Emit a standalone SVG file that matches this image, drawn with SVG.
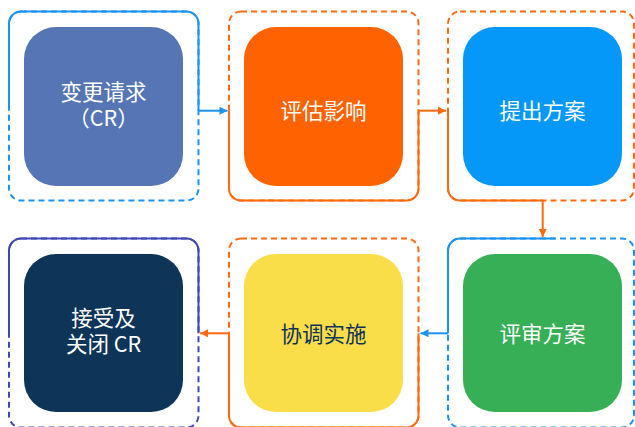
<svg xmlns="http://www.w3.org/2000/svg" width="635" height="427" viewBox="0 0 635 427">
<style>
.frame{fill:none;stroke-width:2;stroke-dasharray:6 4}
.solid{fill:none;stroke-width:2}
.blue{stroke:#1b93f3}
.orange{stroke:#ff6a10}
.purple{stroke:#3f49b3}
.lbl{font-family:"Noto Sans CJK SC","Noto Sans",sans-serif;font-size:21.5px;text-anchor:middle;fill:#ffffff}
.dark{fill:#0f3358}
.conn{fill:none;stroke-width:2}
</style>
<defs>
<marker id="arB" viewBox="0 0 10 10" refX="10" refY="5" markerWidth="9" markerHeight="8" markerUnits="userSpaceOnUse" orient="auto"><path d="M0,0 L10,5 L0,10 z" fill="#1b93f3"/></marker>
<marker id="arO" viewBox="0 0 10 10" refX="10" refY="5" markerWidth="9" markerHeight="8" markerUnits="userSpaceOnUse" orient="auto"><path d="M0,0 L10,5 L0,10 z" fill="#ff6a10"/></marker>
</defs>
<rect width="635" height="427" fill="#ffffff"/>

<g id="node-change-request">
<rect class="frame blue" x="9" y="11.5" width="189.5" height="189" rx="12"/>
<path class="solid blue" d="M9,108 V23.5 A12,12 0 0 1 21,11.5 H186.5 A12,12 0 0 1 198.5,23.5 V110.7"/>
<rect x="24" y="27" width="159" height="159" rx="32" fill="#5575b4"/>
<text class="lbl" x="103.5" y="99.5">变更请求<tspan x="103.5" dy="26.5">（CR）</tspan></text>
</g>

<g id="node-assess">
<rect class="frame orange" x="229" y="11.5" width="189.5" height="189" rx="12"/>
<path class="solid orange" d="M229,110.7 V188.5 A12,12 0 0 0 241,200.5 H406.5 A12,12 0 0 0 418.5,188.5 V110.7"/>
<rect x="244" y="27" width="159" height="159" rx="32" fill="#ff6200"/>
<text class="lbl" x="323.5" y="118.5">评估影响</text>
</g>

<g id="node-propose">
<rect class="frame orange" x="448" y="11.5" width="186" height="189" rx="12"/>
<path class="solid orange" d="M448,110.7 V188.5 A12,12 0 0 0 460,200.5 H542.7"/>
<rect x="463" y="27" width="159" height="159" rx="32" fill="#0598f9"/>
<text class="lbl" x="542.5" y="118.5">提出方案</text>
</g>

<g id="node-review">
<rect class="frame blue" x="448" y="238.5" width="186" height="189" rx="12"/>
<path class="solid blue" d="M555,238.5 H460 A12,12 0 0 0 448,250.5 V333.3"/>
<rect x="463" y="254" width="159" height="158" rx="32" fill="#37af56"/>
<text class="lbl" x="542.5" y="341.5">评审方案</text>
</g>

<g id="node-implement">
<rect class="frame orange" x="229" y="238.5" width="189.5" height="189" rx="12"/>
<path class="solid orange" d="M418.5,333.3 V415.5 A12,12 0 0 1 406.5,427.5 H241 A12,12 0 0 1 229,415.5 V333.3"/>
<rect x="244" y="254" width="159" height="158" rx="32" fill="#f9de4a"/>
<text class="lbl dark" x="323.5" y="342">协调实施</text>
</g>

<g id="node-close">
<rect class="frame purple" x="9" y="238.5" width="189.5" height="189" rx="12"/>
<path class="solid purple" d="M198.5,333.3 V250.5 A12,12 0 0 0 186.5,238.5 H21 A12,12 0 0 0 9,250.5 V333.3"/>
<rect x="24" y="254" width="159" height="158" rx="32" fill="#0e3457"/>
<text class="lbl" x="103.5" y="325.5">接受及<tspan x="103.5" dy="26.5">关闭 CR</tspan></text>
</g>

<g id="connectors">
<path class="conn blue" d="M198.5,110.7 H227.5" marker-end="url(#arB)"/>
<path class="conn orange" d="M418.5,110.7 H446" marker-end="url(#arO)"/>
<path class="conn orange" d="M542.7,200.5 V237" marker-end="url(#arO)"/>
<path class="conn blue" d="M448,333.3 H420.5" marker-end="url(#arB)"/>
<path class="conn orange" d="M229,333.3 H200" marker-end="url(#arO)"/>
</g>
</svg>
